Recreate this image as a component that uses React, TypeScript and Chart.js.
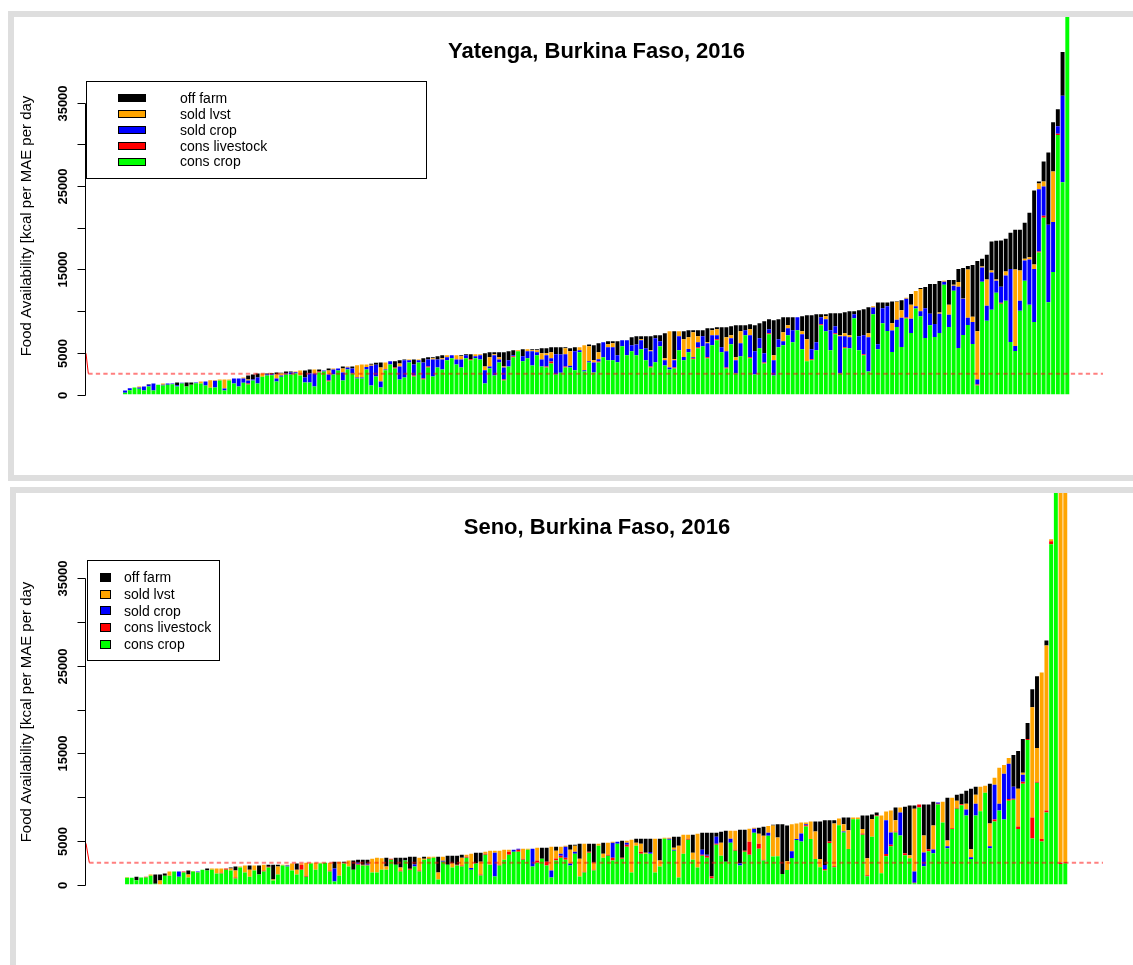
import React, { useEffect, useRef } from "react";
import { Chart, registerables } from "chart.js";

Chart.register(...registerables);

const FONT = '"Liberation Sans", Arial, Helvetica, sans-serif';

const seriesLabels = ["cons crop", "cons livestock", "sold crop", "sold lvst", "off farm"];
const seriesColors = ["#00ff00", "#ff0000", "#0000ff", "#ffa500", "#000000"];
const legendOrder = [4, 3, 2, 1, 0];
const yTickValues = [0, 5000, 10000, 15000, 20000, 25000, 30000, 35000];
const yTickLabels = ["0", "5000", "", "15000", "", "25000", "", "35000"];
const yAxisTitle = "Food Availability [kcal per MAE per day";
const thresholdKcal = 2500;

// ---------------- Yatenga, Burkina Faso, 2016 ----------------
const yatengaConsCrop = [
  200,520,840,680,480,960,480,1160,1080,1160,
  1240,960,1320,960,1160,1360,1320,1080,800,840,
  1680,480,1680,1320,960,1400,1200,1680,1320,2120,
  2280,2320,1560,2120,2400,2400,2520,2280,1440,1440,
  960,2640,2760,1560,2400,2880,1680,3000,2520,1920,
  1920,3000,
  1080,2170,840,2900,3600,3130,1800,2050,3850,2170,
  3850,1800,3250,2170,3250,3000,4100,4340,3600,3250,
  4340,4100,4340,4200,1330,3130,2290,3850,1690,3370,
  4460,5180,3980,4340,3490,4700,3370,3250,3730,2410,
  2600,3250,3250,2900,5060,2770,3850,2650,3850,4460,
  4100,4100,
  3860,5780,4700,5180,4700,5420,4100,3250,3860,5780,
  3490,3000,3130,5300,4100,5060,4220,5540,5780,4340,
  5900,6500,5060,3130,6020,2530,4580,7100,4340,2410,
  5540,3730,7230,2290,5660,5900,7100,6260,7700,5420,
  3980,4100,5300,8310,7600,5300,7230,2530,5540,5540,
  9160,5300,4700,2770,9640,
  5420,8550,7630,5100,8100,5700,9120,7390,10320,9400,
  6790,8310,6900,7390,13170,8100,12450,5580,7150,8350,
  6060,1080,13530,8840,10160,12200,10880,11240,6300,5220,
  10040,13650,10760,8710,17030,21200,11080,14700,31120,25460,
  48000,
];
const yatengaConsLivestock = [
  0,0,0,0,0,0,0,0,0,0,
  0,0,0,0,0,0,0,0,0,0,
  0,0,0,0,0,0,120,0,0,0,
  0,0,0,0,0,0,0,0,0,0,
  0,120,0,120,0,0,0,0,0,0,
  0,0,
  0,0,0,0,0,120,0,0,0,120,
  0,120,120,0,0,0,0,0,0,0,
  0,120,0,0,0,0,0,0,120,0,
  120,0,0,0,0,0,0,120,240,0,
  0,120,0,0,0,0,0,0,120,0,
  0,0,
  0,0,0,0,0,0,0,120,0,0,
  0,0,120,0,0,0,120,120,0,120,
  0,120,0,120,0,0,0,0,120,0,
  0,120,120,0,0,0,0,0,0,0,
  0,120,0,120,0,0,120,0,120,0,
  0,0,120,0,0,
  0,0,0,0,0,0,120,0,0,0,
  0,0,0,0,0,0,0,0,0,0,
  0,120,0,0,0,0,120,0,0,0,
  0,0,0,0,120,240,0,0,160,0,
  0,
];
const yatengaSoldCrop = [
  280,240,0,160,480,200,840,0,80,160,
  80,160,80,0,0,80,0,480,0,800,
  0,240,0,600,960,520,360,120,720,0,
  120,100,360,160,160,240,160,0,600,1080,
  1560,0,120,720,600,240,960,240,600,120,
  120,300,
  2370,1400,730,100,400,0,1570,2050,250,1310,
  250,1930,830,2030,950,1200,360,360,600,950,
  360,0,240,500,1570,240,2410,350,1440,730,
  120,0,620,840,1690,360,830,1330,370,2410,
  2200,1450,200,2280,240,130,130,1200,250,1800,
  1560,1560,
  840,720,1800,720,1300,1080,1440,1810,2890,600,
  610,250,850,1700,400,400,120,600,1220,1680,
  1200,480,600,1930,730,1570,1560,600,2640,2770,
  1210,1090,480,1810,970,480,850,1450,1580,1810,
  0,1200,960,850,1440,2410,840,4470,1340,1330,
  480,1690,2280,4100,800,
  600,1810,2970,2570,860,3500,2240,1690,280,600,
  3570,1370,1570,2290,360,1460,600,7350,4330,850,
  2650,600,1690,1800,4460,1450,1930,3020,8760,600,
  1200,2410,5420,6350,7470,3500,9280,6000,890,10360,
  0,
];
const yatengaSoldLvst = [
  0,0,0,120,0,0,0,0,160,0,
  0,0,0,0,0,0,240,0,920,80,
  120,1080,120,0,0,120,120,0,0,400,
  0,0,480,240,0,0,80,600,0,0,
  480,0,0,480,120,0,480,120,0,1460,
  1560,300,
  120,0,1680,850,0,0,360,0,100,0,
  100,0,0,140,0,140,240,0,500,380,
  0,0,240,120,470,1090,120,260,120,0,
  0,120,0,240,120,240,740,240,720,0,
  0,720,1730,0,360,3000,1800,250,840,0,
  360,480,
  0,0,0,0,0,130,0,120,0,0,
  240,4350,120,600,2130,1400,3010,740,0,120,
  610,730,0,1690,350,360,1450,0,730,0,
  0,0,0,600,0,1090,360,0,0,360,
  2650,0,0,0,360,0,0,100,350,230,
  0,0,0,480,160,
  0,0,0,880,2160,920,120,1680,1800,2650,
  0,0,0,160,120,1200,120,560,40,5800,
  610,5790,120,3140,240,130,0,480,0,9160,
  3620,210,290,520,680,600,0,6050,0,0,
  0,
];
const yatengaOffFarm = [
  0,0,0,0,0,80,0,0,0,0,
  0,320,0,480,280,0,0,0,0,0,
  0,0,0,0,0,0,480,600,480,0,
  120,140,240,80,200,120,0,0,840,480,
  0,240,0,240,0,0,240,0,240,0,
  0,0,
  130,230,600,0,0,750,370,100,0,600,
  0,490,260,120,380,360,0,0,0,120,
  120,600,0,0,1570,600,240,600,1690,1080,
  600,0,820,0,120,120,600,600,600,840,
  860,120,360,480,0,0,220,1800,1080,0,
  360,240,
  1680,0,0,970,1000,370,1460,1700,350,720,
  3010,0,3380,0,970,840,230,700,700,1690,
  240,240,2410,1200,1090,3850,720,610,600,3130,
  1800,3860,1210,4200,2410,1810,970,1570,0,1810,
  2870,4080,3380,360,240,2050,1570,2660,2530,2900,
  360,3130,3140,3130,0,
  5020,680,440,2610,80,1200,0,1290,0,120,
  2530,3570,4780,3760,0,2970,560,1570,3660,420,
  6220,8430,930,2970,3490,4650,5540,3930,4340,4780,
  4900,4330,5330,8880,240,2410,8680,5900,2030,5260,
  0,
];
const yatengaRefX = [-7.24, -6.75];
const yatengaRefY = [4940, 2500];

// ---------------- Seno, Burkina Faso, 2016 ----------------
const senoConsCrop = [
  760,760,500,800,800,1000,100,0,1000,1000,
  1480,900,1360,800,1480,1360,1700,1600,1700,1250,
  1250,1700,1600,680,1930,1360,900,1600,1140,1480,
  1930,450,1140,2160,2050,1600,1140,1700,900,2390,
  1700,2390,2500,1480,340,1000,2390,2050,1700,2270,
  2160,2160,
  1360,1360,1700,1700,2840,2270,1480,2730,1700,2050,
  1480,2840,2950,3070,570,2610,2270,1930,2160,2050,
  3070,1700,2390,1020,3410,2270,910,2160,2840,3410,
  3750,3750,2840,3980,2050,2500,2950,2160,800,2730,
  3070,2840,2160,3520,910,1360,3640,1590,4430,3070,
  3300,2730,
  4660,2950,4320,1360,4430,3520,3520,3520,1360,2050,
  5230,5110,3860,800,3520,5110,2840,1930,3300,3070,
  680,4550,3300,2610,4770,3860,2160,3750,3410,5910,
  4090,2730,5570,3200,3220,1200,1670,3030,5080,4920,
  6630,5190,2920,1970,1590,4730,1970,6780,5950,4050,
  7460,7460,5680,950,5450,
  7800,1290,3220,4360,5950,5600,3330,2990,150,8790,
  2080,3790,3560,9130,7080,4130,6330,8670,9050,7880,
  2920,7880,8370,10490,4130,7200,8450,7420,9580,9700,
  6330,11520,16520,5270,11630,4920,8220,38900,48000,2350,
  2420,
];
const senoConsLivestock = [
  0,0,0,0,100,0,0,0,0,0,
  0,0,120,0,0,40,0,0,0,0,
  80,120,0,110,0,0,0,0,0,110,
  110,0,0,0,0,0,0,570,110,0,
  0,0,0,110,0,0,110,0,0,110,
  110,110,
  0,0,0,0,110,0,110,0,110,0,
  110,0,80,0,0,0,0,0,110,110,
  100,0,0,110,110,0,0,110,0,340,
  0,230,110,0,0,230,0,450,0,230,
  230,230,0,0,0,110,110,110,0,0,
  110,340,
  0,110,230,0,0,230,0,0,0,0,
  0,0,0,0,0,110,0,0,110,230,
  230,110,0,0,0,110,0,110,1480,0,
  570,110,0,0,0,0,0,0,0,0,
  150,0,0,0,190,190,110,0,0,0,
  0,0,150,110,0,
  100,0,270,190,110,0,230,0,50,340,
  0,230,0,110,0,0,110,110,110,0,
  0,0,0,0,0,230,0,0,190,110,
  300,230,110,2380,110,270,230,340,0,100,
  110,
];
const senoSoldCrop = [
  0,0,0,0,0,0,0,0,0,0,
  0,580,0,0,0,100,0,0,0,0,
  0,0,0,0,0,0,0,0,0,0,
  0,0,0,0,110,0,0,0,0,0,
  0,0,0,0,1480,0,0,0,0,110,
  0,110,
  0,0,0,0,0,0,0,0,0,230,
  0,0,0,0,0,110,0,0,0,0,
  0,190,0,0,0,0,2730,0,0,0,
  230,110,0,0,2040,0,0,0,790,0,
  220,1250,230,230,0,0,0,0,0,0,
  0,1700,
  230,0,220,0,0,0,0,200,0,0,
  0,110,120,0,0,0,0,0,570,110,
  0,790,0,0,460,0,230,0,0,450,
  0,0,340,0,0,0,0,760,110,910,
  110,0,0,0,450,0,0,0,110,0,
  0,0,0,0,0,
  0,0,3860,1400,0,2620,0,0,1300,0,
  1590,0,450,120,0,230,0,0,0,680,
  190,1360,0,0,230,3970,790,5230,4020,1360,
  0,790,0,0,0,0,0,0,0,50,
  0,
];
const senoSoldLvst = [
  70,0,0,0,0,140,0,450,0,480,
  0,0,0,340,60,0,0,0,120,570,
  490,0,220,810,120,800,800,560,0,680,
  0,110,910,110,110,790,560,120,1490,110,
  800,110,0,910,0,1610,0,680,0,0,
  0,0,
  1590,1710,1300,350,0,0,340,0,0,0,
  1480,110,150,110,790,460,0,460,0,910,
  240,1630,0,1480,230,1590,220,1590,1140,230,
  0,0,1140,110,0,1470,0,0,2730,900,
  800,110,1590,680,2040,3190,0,800,230,450,
  1360,120,
  0,0,230,3750,340,910,120,0,3870,680,
  110,120,220,3630,2160,460,800,3870,0,0,
  0,0,1470,0,910,2170,0,0,1470,120,
  1140,2730,790,3540,2160,0,980,3110,1780,1250,
  190,2010,3140,950,0,0,4890,760,840,2160,
  190,190,500,1930,2010,
  0,6610,980,2500,1290,570,0,340,7170,0,
  1930,0,2730,0,2390,680,3480,800,0,680,
  910,1030,2800,800,2610,800,4090,1020,680,0,
  4320,230,0,12620,3870,19050,18860,230,0,46000,
  46000,
];
const senoOffFarm = [
  0,0,400,0,0,0,1040,690,250,0,
  0,0,0,460,0,0,0,220,0,0,
  0,0,110,450,0,0,460,0,1020,0,
  230,1710,220,0,0,0,690,0,0,0,
  0,0,0,0,790,0,110,0,1030,350,
  570,460,
  0,0,0,1020,0,800,1140,340,1370,900,
  0,230,0,0,1820,0,1030,910,1030,340,
  0,0,1250,1030,0,0,0,0,0,0,
  0,0,0,0,0,0,1250,1590,0,460,
  0,0,570,120,1710,0,910,2160,0,1250,
  0,0,
  0,1940,0,0,460,570,1590,1510,0,2500,
  0,0,1250,1020,0,0,2040,0,1930,2500,
  5000,460,1250,3530,0,0,3860,2390,0,0,
  680,1020,0,80,1520,5700,4090,0,0,0,
  0,0,1140,4280,5120,2430,380,0,750,1440,
  0,0,1550,4890,530,
  320,0,0,0,1440,0,5340,5690,350,0,
  3530,5110,2730,0,0,4880,0,690,1220,1480,
  6930,900,0,0,4550,0,0,0,0,3640,
  4320,3860,1820,2040,8180,0,570,0,0,0,
  0,
];
const senoRefX = [-7.7, -7.0];
const senoRefY = [4700, 2500];

// ---------------- layout (positions / sizes only) ----------------
const topLayout = {
  frameLeft: 8, frameTop: 11, frameHeight: 470,
  canvasWidth: 1119, canvasHeight: 458,
  pad: { left: 72, right: 30, top: 0, bottom: 80.5 },
  yMax: 45280, xMin: -7.24, xMax: 207.54,
  titleX: 582.5, titleY: 34.5, ylabX: 13, ylabY: 209, tickLabelRight: 53,
  legend: { kind: "rect", box: [72, 64, 412, 161], keyLeft: 104, keyWidth: 28, keyHeight: 8, textLeft: 166, rowTop: 81, rowStep: 15.9 },
};
const bottomLayout = {
  frameLeft: 10, frameTop: 487, frameHeight: 600,
  canvasWidth: 1117, canvasHeight: 472,
  pad: { left: 70, right: 30, top: 0, bottom: 80.5 },
  yMax: 44743, xMin: -7.7, xMax: 208,
  titleX: 581, titleY: 35, ylabX: 11, ylabY: 219, tickLabelRight: 51,
  legend: { kind: "square", box: [71, 67, 203, 167], keyLeft: 84, keyWidth: 11, keyHeight: 9, textLeft: 108, rowTop: 84.5, rowStep: 16.67 },
};

function makeDecor(title: string, layout: any) {
  return {
    id: "decor",
    afterDraw(chart: any) {
      const ctx = chart.ctx;
      const ys = chart.scales.y;
      const axisX = chart.chartArea.left - 0.5;
      ctx.save();
      // y axis line
      ctx.strokeStyle = "#000";
      ctx.lineWidth = 1;
      ctx.beginPath();
      ctx.moveTo(axisX, Math.round(ys.getPixelForValue(yTickValues[0])) + 0.5);
      ctx.lineTo(axisX, Math.round(ys.getPixelForValue(yTickValues[yTickValues.length - 1])) + 0.5);
      ctx.stroke();
      // ticks and labels
      ctx.font = `bold 13px ${FONT}`;
      ctx.fillStyle = "#000";
      yTickValues.forEach((v, i) => {
        const py = Math.round(ys.getPixelForValue(v)) + 0.5;
        ctx.beginPath();
        ctx.moveTo(axisX - 8, py);
        ctx.lineTo(axisX, py);
        ctx.stroke();
        const lab = yTickLabels[i];
        if (lab) {
          ctx.save();
          ctx.translate(layout.tickLabelRight, py);
          ctx.rotate(-Math.PI / 2);
          ctx.textAlign = "center";
          ctx.textBaseline = "alphabetic";
          ctx.fillText(lab, 0, 0);
          ctx.restore();
        }
      });
      // y axis title
      ctx.save();
      ctx.font = `15px ${FONT}`;
      ctx.translate(layout.ylabX, layout.ylabY);
      ctx.rotate(-Math.PI / 2);
      ctx.textAlign = "center";
      ctx.textBaseline = "middle";
      ctx.fillText(yAxisTitle, 0, 0);
      ctx.restore();
      // title
      ctx.font = `bold 22px ${FONT}`;
      ctx.textAlign = "center";
      ctx.textBaseline = "middle";
      ctx.fillText(title, layout.titleX, layout.titleY);
      // legend
      const lg = layout.legend;
      const [l, t, r, b] = lg.box;
      ctx.fillStyle = "#fff";
      ctx.fillRect(l, t, r - l, b - t);
      ctx.strokeStyle = "#000";
      ctx.strokeRect(l + 0.5, t + 0.5, r - l, b - t);
      ctx.font = `14px ${FONT}`;
      ctx.textAlign = "left";
      ctx.textBaseline = "middle";
      legendOrder.forEach((s, i) => {
        const cy = lg.rowTop + i * lg.rowStep;
        const ky = Math.round(cy - lg.keyHeight / 2);
        ctx.fillStyle = seriesColors[s];
        ctx.fillRect(lg.keyLeft, ky, lg.keyWidth, lg.keyHeight);
        ctx.strokeStyle = "#000";
        ctx.strokeRect(lg.keyLeft + 0.5, ky + 0.5, lg.keyWidth - 1, lg.keyHeight - 1);
        ctx.fillStyle = "#000";
        ctx.fillText(seriesLabels[s], lg.textLeft, cy + 1);
      });
      ctx.restore();
    },
  };
}

function Panel({ title, series, refX, refY, layout }: any) {
  const ref = useRef<HTMLCanvasElement>(null);
  useEffect(() => {
    const canvas = ref.current;
    if (!canvas) return;
    const barIds = series[0].map((_: number, i: number) => i + 1);
    const datasets: any[] = series.map((values: number[], s: number) => ({
      type: "bar",
      label: seriesLabels[s],
      data: values,
      backgroundColor: seriesColors[s],
      borderWidth: 0,
      order: 1,
      stack: "food",
      categoryPercentage: 1,
      barPercentage: 0.834,
    }));
    datasets.push({
      type: "line",
      label: "ref-solid",
      data: [{ x: refX[0], y: refY[0] }, { x: refX[1], y: refY[1] }],
      borderColor: "#ff0000",
      borderWidth: 1,
      pointRadius: 0,
      tension: 0,
      order: 0,
      stack: "refSolid",
    });
    datasets.push({
      type: "line",
      label: "ref-dash",
      data: [{ x: refX[1], y: thresholdKcal }, { x: layout.xMax, y: thresholdKcal }],
      borderColor: "rgba(255,0,0,0.5)",
      borderWidth: 2,
      borderDash: [4.3, 3.2],
      pointRadius: 0,
      tension: 0,
      order: 0,
      stack: "refDash",
    });
    const chart = new Chart(canvas, {
      type: "bar",
      data: { labels: barIds, datasets },
      options: {
        animation: false,
        responsive: false,
        devicePixelRatio: 1,
        events: [],
        layout: { padding: layout.pad },
        plugins: { legend: { display: false }, tooltip: { enabled: false }, title: { display: false } },
        scales: {
          x: { type: "linear", display: false, min: layout.xMin, max: layout.xMax, offset: false, stacked: true, ticks: { stepSize: 50 }, grid: { display: false } },
          y: { type: "linear", display: false, min: 0, max: layout.yMax, stacked: true, grid: { display: false } },
        },
      } as any,
      plugins: [makeDecor(title, layout)],
    });
    return () => chart.destroy();
  }, []);
  return (
    <div
      style={{
        position: "absolute",
        left: layout.frameLeft,
        top: layout.frameTop,
        width: 1300,
        height: layout.frameHeight,
        border: "6px solid #dedede",
        boxSizing: "border-box",
        background: "#fff",
      }}
    >
      <canvas
        ref={ref}
        width={layout.canvasWidth}
        height={layout.canvasHeight}
        style={{ position: "absolute", left: 0, top: 0, width: layout.canvasWidth, height: layout.canvasHeight }}
      />
    </div>
  );
}

export default function App() {
  return (
    <div style={{ position: "fixed", left: 0, top: 0, width: 1133, height: 965, overflow: "hidden", background: "#fff" }}>
      <Panel
        title="Yatenga, Burkina Faso, 2016"
        series={[yatengaConsCrop, yatengaConsLivestock, yatengaSoldCrop, yatengaSoldLvst, yatengaOffFarm]}
        refX={yatengaRefX}
        refY={yatengaRefY}
        layout={topLayout}
      />
      <Panel
        title="Seno, Burkina Faso, 2016"
        series={[senoConsCrop, senoConsLivestock, senoSoldCrop, senoSoldLvst, senoOffFarm]}
        refX={senoRefX}
        refY={senoRefY}
        layout={bottomLayout}
      />
    </div>
  );
}
